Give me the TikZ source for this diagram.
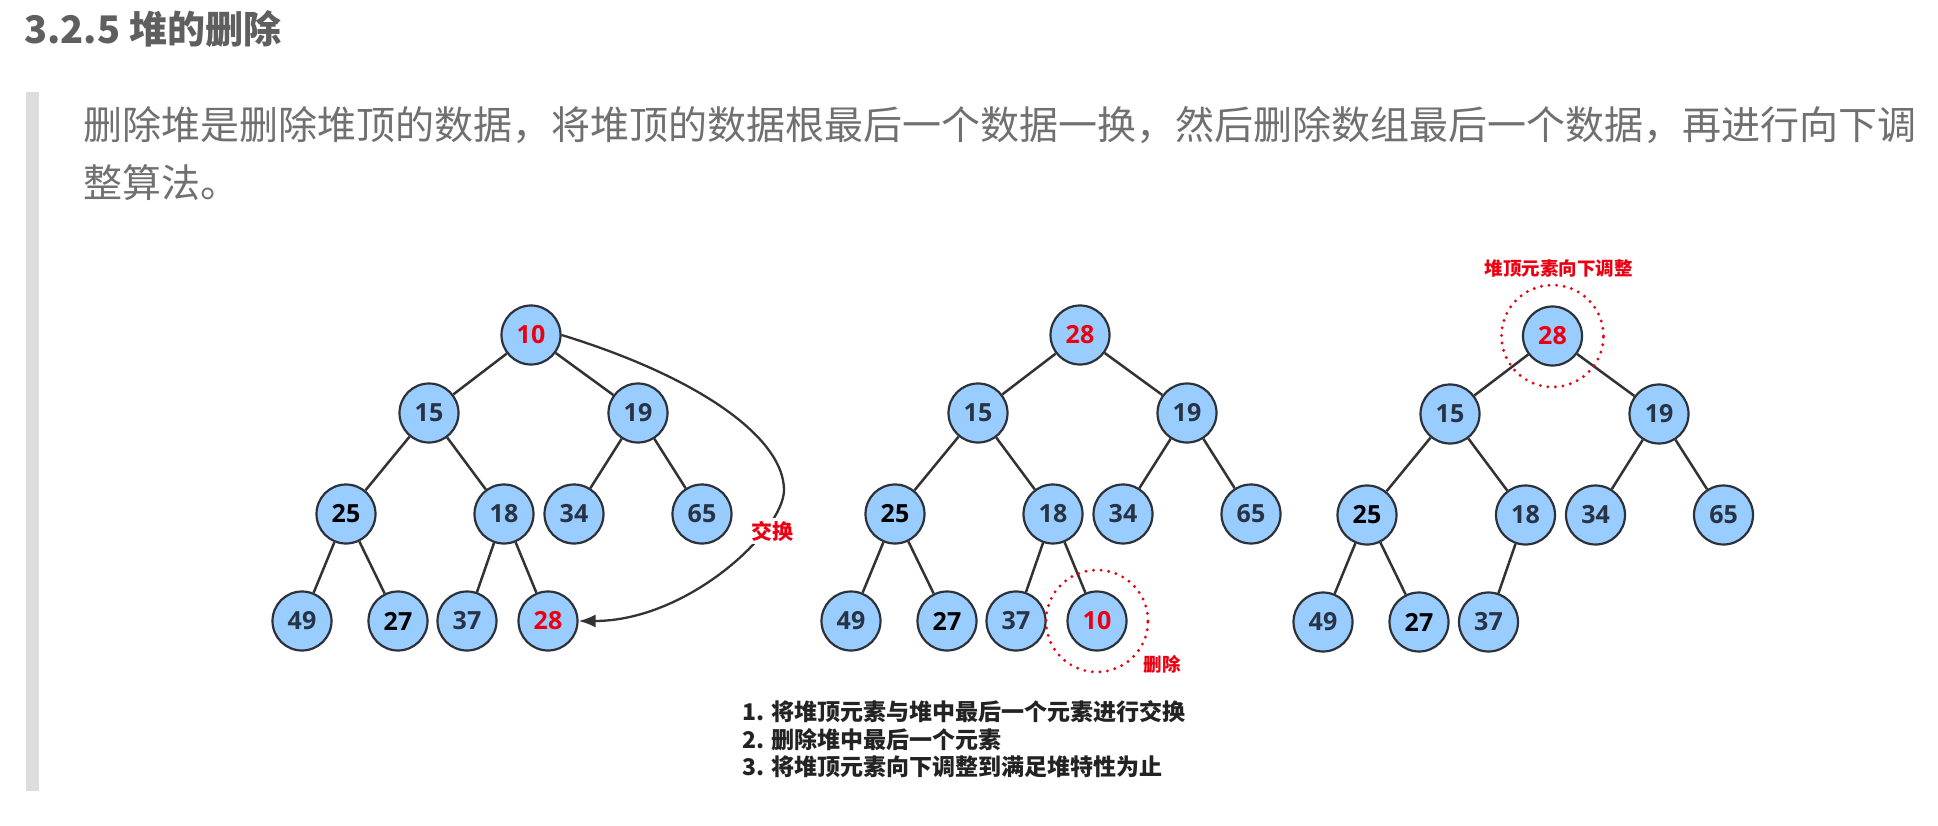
\documentclass[tikz,border=0pt]{standalone}
\usepackage{fontspec}
\setmainfont{Open Sans}
\newfontfamily\cjk{Noto Sans CJK SC}
\usetikzlibrary{arrows.meta}
\definecolor{nodefill}{RGB}{153,204,255}
\definecolor{nodeline}{RGB}{45,50,58}
\definecolor{numtxt}{RGB}{40,52,70}
\definecolor{edgecol}{RGB}{51,51,51}
\definecolor{hred}{RGB}{235,0,18}
\definecolor{titlegray}{RGB}{95,95,95}
\definecolor{paragray}{RGB}{112,112,112}
\definecolor{bargray}{RGB}{221,221,221}
\definecolor{stepstxt}{RGB}{35,35,35}
\begin{document}
\begin{tikzpicture}[x=1pt,y=-1pt,
 hn/.style={circle,draw=nodeline,line width=2.2pt,fill=nodefill,minimum size=59pt,inner sep=0pt,text=numtxt,font=\fontsize{25}{25}\selectfont\bfseries},
 dk/.style={text=black},
 rd/.style={text=hred},
 edge/.style={draw=edgecol,line width=2.5pt},
 ring/.style={circle,draw=hred,line width=3.2pt,dash pattern=on 0pt off 7.6pt,line cap=round,minimum size=102pt,inner sep=0pt},
 redlab/.style={text=hred,font=\fontsize{18.5}{18.5}\cjk\bfseries,inner sep=1pt},
]
\useasboundingbox[fill=white] (0,0) rectangle (1938,826);

% header
\node[anchor=west,inner sep=0pt,text=titlegray,font=\fontsize{38}{38}\cjk\bfseries] (title) at (24,29) {3.2.5 堆的删除};
\fill[bargray] (26,92) rectangle (39,791);
\node[anchor=west,inner sep=0pt,text=paragray,font=\fontsize{39}{39}\cjk] (p1) at (83,125) {删除堆是删除堆顶的数据，将堆顶的数据根最后一个数据一换，然后删除数组最后一个数据，再进行向下调};
\node[anchor=west,inner sep=0pt,text=paragray,font=\fontsize{39}{39}\cjk] (p2) at (83,183) {整算法。};

% ---------- tree 1 ----------
\node[hn,rd] (a10) at (531,335) {10};
\node[hn] (a15) at (429,413) {15};
\node[hn] (a19) at (638,413) {19};
\node[hn,dk] (a25) at (346,514) {25};
\node[hn] (a18) at (504,514) {18};
\node[hn] (a34) at (574,514) {34};
\node[hn] (a65) at (702,514) {65};
\node[hn] (a49) at (302,621) {49};
\node[hn,dk] (a27) at (398,621) {27};
\node[hn] (a37) at (467,621) {37};
\node[hn,rd] (a28) at (548,621) {28};
\draw[edge] (a10)--(a15) (a10)--(a19) (a15)--(a25) (a15)--(a18) (a19)--(a34) (a19)--(a65)
  (a25)--(a49) (a25)--(a27) (a18)--(a37) (a18)--(a28);
\coordinate (sw) at (784,490);
\draw[edgecol,line width=2.3pt] (a10.east) .. controls +(143,44) and +(0,-50) .. (sw);
\draw[edgecol,line width=2.3pt,-{Latex[length=17pt,width=13pt]}] (sw) .. controls +(0,40) and +(110,0) .. (a28.east);
\node[fill=white,inner sep=3pt,text=hred,font=\fontsize{21}{21}\cjk\bfseries] (swap) at (772,531) {交换};

% ---------- tree 2 ----------
\node[hn,rd] (b28) at (1080,335) {28};
\node[hn] (b15) at (978,413) {15};
\node[hn] (b19) at (1187,413) {19};
\node[hn,dk] (b25) at (895,514) {25};
\node[hn] (b18) at (1053,514) {18};
\node[hn] (b34) at (1123,514) {34};
\node[hn] (b65) at (1251,514) {65};
\node[hn] (b49) at (851,621) {49};
\node[hn,dk] (b27) at (947,621) {27};
\node[hn] (b37) at (1016,621) {37};
\node[hn,rd] (b10) at (1097,621) {10};
\draw[edge] (b28)--(b15) (b28)--(b19) (b15)--(b25) (b15)--(b18) (b19)--(b34) (b19)--(b65)
  (b25)--(b49) (b25)--(b27) (b18)--(b37) (b18)--(b10);
\node[ring] (ringb) at (b10) {};
\node[redlab] (del) at (1162,664) {删除};

% ---------- tree 3 ----------
\node[hn,rd] (c28) at (1552.5,336) {28};
\node[hn] (c15) at (1450,414) {15};
\node[hn] (c19) at (1659,414) {19};
\node[hn,dk] (c25) at (1367,515) {25};
\node[hn] (c18) at (1525.5,515) {18};
\node[hn] (c34) at (1595.5,515) {34};
\node[hn] (c65) at (1723.5,515) {65};
\node[hn] (c49) at (1323,622) {49};
\node[hn,dk] (c27) at (1419,622) {27};
\node[hn] (c37) at (1488.5,622) {37};
\draw[edge] (c28)--(c15) (c28)--(c19) (c15)--(c25) (c15)--(c18) (c19)--(c34) (c19)--(c65)
  (c25)--(c49) (c25)--(c27) (c18)--(c37);
\node[ring] (ringc) at (c28) {};
\node[redlab] (adj) at (1558.7,268) {堆顶元素向下调整};

% ---------- steps ----------
\node[anchor=west,inner sep=0pt,text=stepstxt,font=\fontsize{23}{23}\cjk\bfseries] (s1) at (742,712) {1. 将堆顶元素与堆中最后一个元素进行交换};
\node[anchor=west,inner sep=0pt,text=stepstxt,font=\fontsize{23}{23}\cjk\bfseries] (s2) at (742,740) {2. 删除堆中最后一个元素};
\node[anchor=west,inner sep=0pt,text=stepstxt,font=\fontsize{23}{23}\cjk\bfseries] (s3) at (742,767) {3. 将堆顶元素向下调整到满足堆特性为止};
\end{tikzpicture}
\end{document}
